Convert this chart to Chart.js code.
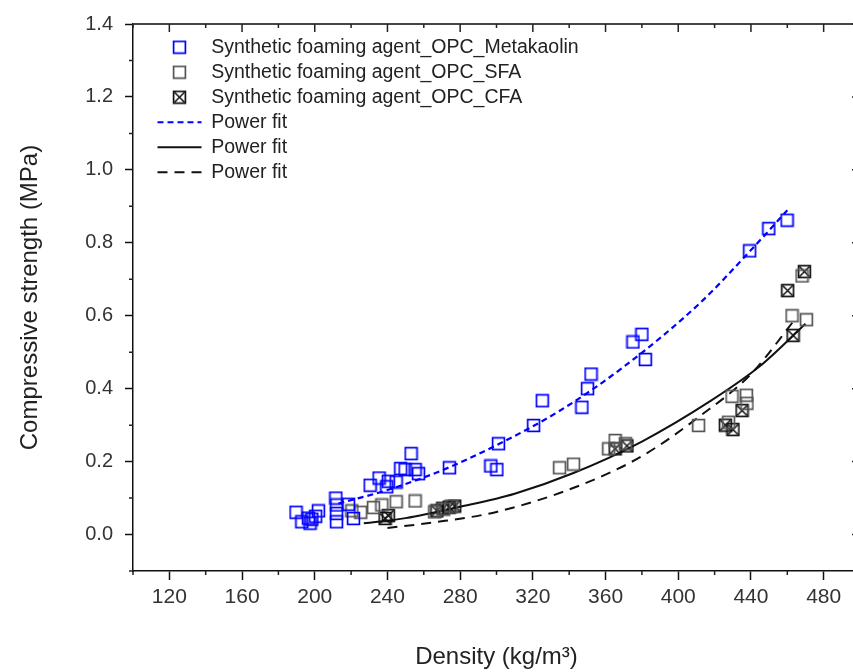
<!DOCTYPE html>
<html>
<head>
<meta charset="utf-8">
<script src="https://cdn.jsdelivr.net/npm/chart.js@4"></script>
<style>
  html, body { margin: 0; padding: 0; background: #fff; overflow: hidden; }
  #wrap { width: 853px; height: 672px; overflow: hidden; }
  #strengthChart { display: block; }
</style>
</head>
<body>
<div id="wrap"><canvas id="strengthChart" width="865" height="672"></canvas></div>
<script>
// density (kg/m3) and compressive strength (MPa)
const mkX = [189.7, 192.9, 196.5, 197.4, 198.4, 200.5, 202, 211.6, 212.1, 212, 212, 218.6, 221.3,
  230.5, 235.4, 239.6, 240.5, 244.8, 247.3, 249.7, 253, 255.2, 257.1, 274.1, 296.9, 300.2, 301.1,
  320.4, 325.2, 347, 350.1, 352, 375.1, 380, 381.9, 439.3, 449.8, 459.9];
const mkY = [0.061, 0.035, 0.045, 0.031, 0.042, 0.05, 0.065, 0.10, 0.081, 0.058, 0.035, 0.083, 0.044,
  0.135, 0.155, 0.131, 0.146, 0.144, 0.181, 0.178, 0.222, 0.178, 0.167, 0.183, 0.188, 0.178, 0.249,
  0.299, 0.367, 0.349, 0.40, 0.44, 0.528, 0.549, 0.48, 0.778, 0.839, 0.862];

const sfaX = [220.4, 225.3, 232.3, 236.9, 244.8, 255.2, 266, 271, 275, 334.7, 342.4, 361.7, 365.3,
  370.9, 411.2, 427.7, 429.6, 437.5, 437.8, 462.6, 468.1, 470.5];
const sfaY = [0.065, 0.061, 0.074, 0.081, 0.09, 0.092, 0.062, 0.07, 0.078, 0.183, 0.193, 0.235, 0.258,
  0.249, 0.299, 0.308, 0.379, 0.382, 0.36, 0.60, 0.709, 0.589];

const cfaX = [238.7, 240.5, 267.2, 270.5, 274, 277, 365.3, 371.8, 425.9, 430.1, 435.1, 460.2, 463.2, 469.4];
const cfaY = [0.044, 0.052, 0.065, 0.072, 0.075, 0.078, 0.235, 0.243, 0.30, 0.288, 0.34, 0.669, 0.546, 0.721];

// power fit curves
const fitMkX = [213, 240, 270, 300, 335, 370, 412, 440, 460];
const fitMkY = [0.085, 0.122, 0.176, 0.245, 0.34, 0.46, 0.635, 0.78, 0.889];
const fitSfaX = [227, 250, 280, 310, 342, 380, 418, 445, 470];
const fitSfaY = [0.031, 0.045, 0.076, 0.112, 0.168, 0.255, 0.367, 0.462, 0.578];
const fitCfaX = [240, 265, 300, 346, 380, 412, 440, 465];
const fitCfaY = [0.018, 0.033, 0.062, 0.135, 0.215, 0.325, 0.44, 0.595];

const seriesNames = [
  'Synthetic foaming agent_OPC_Metakaolin',
  'Synthetic foaming agent_OPC_SFA',
  'Synthetic foaming agent_OPC_CFA',
  'Power fit', 'Power fit', 'Power fit'
];

const zip = (xs, ys) => xs.map((x, i) => ({ x, y: ys[i] }));

function squareMarker(color, cross) {
  const c = document.createElement('canvas');
  c.width = 15; c.height = 15;
  const g = c.getContext('2d');
  g.strokeStyle = color;
  g.lineWidth = 1.7;
  g.strokeRect(1.6, 1.6, 11.8, 11.8);
  if (cross) {
    g.lineWidth = 1.5;
    g.beginPath();
    g.moveTo(2.5, 2.5); g.lineTo(12.5, 12.5);
    g.moveTo(12.5, 2.5); g.lineTo(2.5, 12.5);
    g.stroke();
  }
  return c;
}

const isMajorY = v => Math.round(v * 10) % 2 === 0 && v >= -0.001;
const isMajorX = v => Math.round(v) % 40 === 0;

// top / right frame, inward ticks there and short minor ticks everywhere
const frameTicks = {
  id: 'frameTicks',
  afterLayout(chart) {
    const lg = chart.legend;
    lg.left = chart.chartArea.left + 19;
    lg.top = chart.chartArea.top + 8;
  },
  afterDraw(chart) {
    const { ctx, chartArea: a, scales: { x, y } } = chart;
    ctx.save();
    ctx.strokeStyle = '#444';
    ctx.lineWidth = 2;
    ctx.beginPath();
    ctx.moveTo(a.left, a.top); ctx.lineTo(a.right, a.top);
    ctx.lineTo(a.right, a.bottom);
    ctx.stroke();
    ctx.lineWidth = 1.5;
    ctx.strokeStyle = '#222';
    ctx.beginPath();
    x.ticks.forEach(t => {
      const px = x.getPixelForValue(t.value);
      const len = isMajorX(t.value) ? 8 : 4;
      ctx.moveTo(px, a.top); ctx.lineTo(px, a.top + len);
      if (!isMajorX(t.value)) { ctx.moveTo(px, a.bottom); ctx.lineTo(px, a.bottom + 4); }
    });
    y.ticks.forEach(t => {
      const py = y.getPixelForValue(t.value);
      const len = isMajorY(t.value) ? 8 : 4;
      ctx.moveTo(a.right, py); ctx.lineTo(a.right - len, py);
      if (!isMajorY(t.value)) { ctx.moveTo(a.left, py); ctx.lineTo(a.left - 4, py); }
    });
    ctx.stroke();
    ctx.restore();
  }
};

const fitLine = (xs, ys, label, color, dash, width) => ({
  type: 'line',
  label,
  data: zip(xs, ys),
  borderColor: color,
  backgroundColor: color,
  showLine: true,
  pointRadius: 0,
  pointStyle: 'line',
  borderWidth: width,
  borderDash: dash,
  cubicInterpolationMode: 'monotone',
  fill: false
});

const defaultLabels = Chart.defaults.plugins.legend.labels.generateLabels;

new Chart(document.getElementById('strengthChart'), {
  type: 'scatter',
  data: {
    datasets: [
      { label: seriesNames[0], data: zip(mkX, mkY), pointStyle: squareMarker('#0000ff', false),
        borderColor: '#0000ff', backgroundColor: 'transparent' },
      { label: seriesNames[1], data: zip(sfaX, sfaY), pointStyle: squareMarker('#555', false),
        borderColor: '#555', backgroundColor: 'transparent' },
      { label: seriesNames[2], data: zip(cfaX, cfaY), pointStyle: squareMarker('#111', true),
        borderColor: '#111', backgroundColor: 'transparent' },
      fitLine(fitMkX, fitMkY, seriesNames[3], '#0000ff', [6, 4], 2.2),
      fitLine(fitSfaX, fitSfaY, seriesNames[4], '#111', [], 2),
      fitLine(fitCfaX, fitCfaY, seriesNames[5], '#111', [10, 7], 2)
    ]
  },
  options: {
    responsive: false,
    animation: false,
    layout: { padding: { top: 19, right: 0, left: 0, bottom: 0 } },
    plugins: {
      tooltip: { enabled: false },
      legend: {
        position: 'chartArea',
        align: 'start',
        labels: {
          usePointStyle: true,
          pointStyleWidth: 44,
          padding: 5.5,
          color: '#222',
          font: { family: "'Liberation Sans', Arial, sans-serif", size: 19.5 },
          generateLabels: chart => defaultLabels(chart).map(item => {
            const ds = chart.data.datasets[item.datasetIndex];
            if (ds.showLine) {
              item.lineDash = ds.borderDash;
              item.lineWidth = ds.borderWidth;
              item.strokeStyle = ds.borderColor;
            }
            return item;
          })
        }
      }
    },
    scales: {
      x: {
        type: 'linear',
        min: 100, max: 500,
        afterFit: s => { s.height = 101; },
        afterBuildTicks: s => { s.ticks = s.ticks.filter(t => t.value <= 480); },
        ticks: {
          stepSize: 20,
          autoSkip: false,
          maxRotation: 0,
          padding: 5,
          color: '#333',
          font: { family: "'Liberation Sans', Arial, sans-serif", size: 21 },
          callback: v => (isMajorX(v) ? String(v) : '')
        },
        grid: {
          drawOnChartArea: false,
          drawTicks: true,
          tickLength: 9,
          tickWidth: 1.5,
          tickColor: c => (c.tick && isMajorX(c.tick.value) ? '#111' : 'rgba(0,0,0,0)')
        },
        border: { display: true, color: '#111', width: 1.5 },
        title: {
          display: true,
          text: 'Density (kg/m³)',
          color: '#222',
          padding: { top: 0, bottom: 0 },
          font: { family: "'Liberation Sans', Arial, sans-serif", size: 24 }
        }
      },
      y: {
        min: -0.1, max: 1.4,
        afterFit: s => { s.width = 133; },
        ticks: {
          stepSize: 0.1,
          autoSkip: false,
          padding: 12,
          color: '#333',
          font: { family: "'Liberation Sans', Arial, sans-serif", size: 20 },
          callback: v => (isMajorY(v) ? Math.abs(v).toFixed(1) : '')
        },
        grid: {
          drawOnChartArea: false,
          drawTicks: true,
          tickLength: 8,
          tickWidth: 1.5,
          tickColor: c => (c.tick && isMajorY(c.tick.value) ? '#111' : 'rgba(0,0,0,0)')
        },
        border: { display: true, color: '#111', width: 1.5 },
        title: {
          display: true,
          text: 'Compressive strength (MPa)',
          color: '#222',
          padding: { top: 16, bottom: 0 },
          font: { family: "'Liberation Sans', Arial, sans-serif", size: 24 }
        }
      }
    }
  },
  plugins: [frameTicks]
});
</script>
</body>
</html>
